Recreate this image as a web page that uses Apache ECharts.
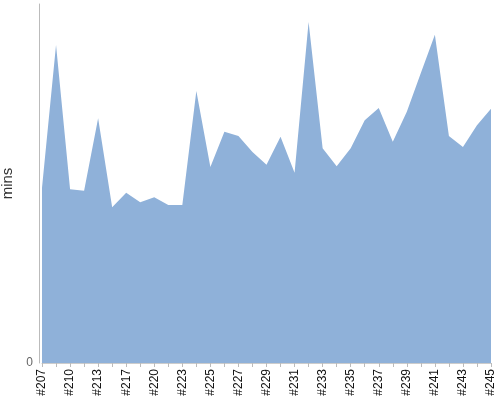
<!DOCTYPE html>
<html>
<head>
<meta charset="utf-8">
<script src="https://cdn.jsdelivr.net/npm/echarts@6/dist/echarts.min.js"></script>
<style>html,body{margin:0;padding:0;background:#fff}#c{width:500px;height:400px}</style>
</head>
<body>
<div id="c"></div>
<script>
var categories = ['#207','#208','#210','#211','#213','#215','#217','#218','#220','#221','#223','#224','#225','#226','#227','#228','#229','#230','#231','#232','#233','#234','#235','#236','#237','#238','#239','#240','#241','#242','#243','#244','#245'];
var minsValues = [24.4,44.3,24.2,24.0,34.1,21.7,23.7,22.4,23.1,22.0,22.0,37.9,27.3,32.2,31.6,29.4,27.6,31.5,26.5,47.5,29.9,27.4,29.9,33.8,35.5,30.8,35.0,40.4,45.7,31.6,30.1,33.1,35.4];
var yTicks = [0, 50];

var chart = echarts.init(document.getElementById('c'));
chart.setOption({
  animation: false,
  grid: {left: 42, right: 9, top: 4, bottom: 37, containLabel: false, outerBoundsMode: 'none'},
  xAxis: {
    type: 'category',
    data: categories,
    boundaryGap: false,
    axisLine: {show: true, lineStyle: {color: '#cccccc', width: 1}},
    axisTick: {show: true, interval: 0, length: 4, lineStyle: {color: '#bbbbbb'}},
    axisLabel: {interval: 1, rotate: 90, fontFamily: 'Liberation Sans, Arial', fontSize: 12, color: '#111', margin: 6}
  },
  yAxis: {
    type: 'value',
    min: yTicks[0],
    max: yTicks[1],
    interval: yTicks[1] - yTicks[0],
    offset: 3,
    name: 'mins',
    nameLocation: 'middle',
    nameGap: 20,
    nameTextStyle: {fontFamily: 'Liberation Sans, Arial', fontSize: 15, color: '#333'},
    axisLine: {show: true, lineStyle: {color: '#bbbbbb', width: 1}},
    axisTick: {show: false},
    splitLine: {show: false},
    axisLabel: {
      fontFamily: 'Liberation Sans, Arial', fontSize: 12, color: '#666', margin: 6,
      formatter: function (v) { return v === 0 ? '0' : ''; }
    }
  },
  series: [{
    type: 'line',
    data: minsValues,
    symbol: 'none',
    lineStyle: {width: 0, color: '#8fb1d9'},
    itemStyle: {color: '#8fb1d9'},
    areaStyle: {color: '#8fb1d9', opacity: 1}
  }]
});
</script>
</body>
</html>
